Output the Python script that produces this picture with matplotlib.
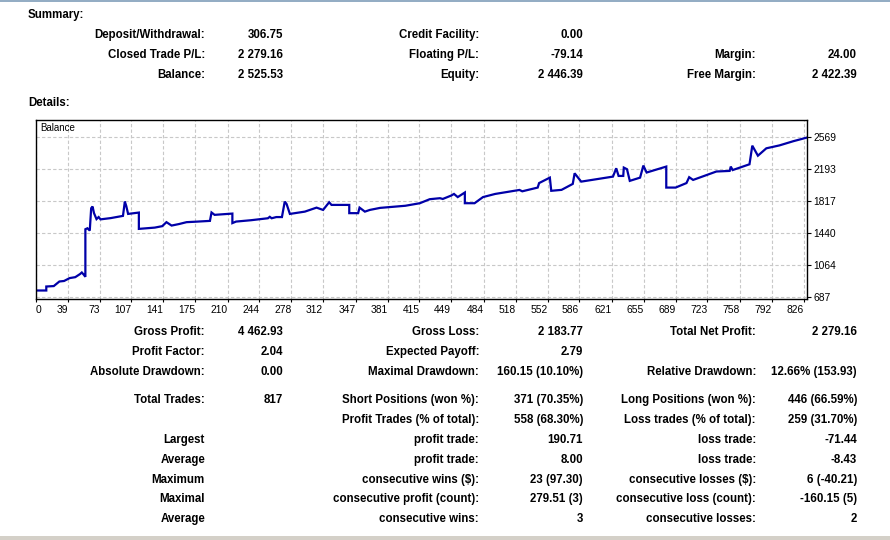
import matplotlib
matplotlib.use("Agg")
import matplotlib.pyplot as plt
from matplotlib.patches import Rectangle
from matplotlib.lines import Line2D

# ---------------- data ----------------
trade_idx = [5, 16, 16, 24, 30, 35, 41, 47, 52, 54, 56, 57.8, 57.8, 60, 62.5, 64, 65.5, 67, 69.7, 72, 74, 85, 98,
             100, 101.5, 103.5, 115, 115, 132, 140, 144.5, 150, 158, 166, 175, 191, 192.7, 196, 215, 215, 219,
             235, 253, 255, 257, 262, 268, 271, 273, 276.5, 292.5, 305, 312, 318.5, 321, 340, 340, 349.5, 351,
             356.7, 362, 373, 400, 415.5, 426, 437, 440, 449, 452, 456, 463.6, 463.6, 474, 483, 496, 522,
             525, 541.5, 543, 554.5, 556, 567, 579, 581, 588, 622, 625.5, 628, 633, 633.6, 637, 640, 651, 654.5,
             658, 679, 679, 689, 700.6, 703.5, 707.7, 732.6, 746.8, 748, 750, 768, 771, 777, 786, 800, 815, 829]
balance = [763, 763, 810, 815, 869, 875, 909, 920, 956, 975, 950, 924, 1484, 1495, 1468, 1731, 1751, 1674, 1603,
           1627, 1600, 1615, 1641, 1809, 1758, 1664, 1680, 1488, 1503, 1520, 1567, 1527, 1545, 1567, 1572, 1582,
           1681, 1653, 1668, 1556, 1574, 1590, 1613, 1630, 1613, 1627, 1627, 1809, 1780, 1664, 1691, 1738, 1711,
           1801, 1770, 1770, 1673, 1673, 1738, 1691, 1711, 1735, 1760, 1790, 1837, 1849, 1840, 1880, 1899, 1862,
           1916, 1790, 1790, 1862, 1899, 1946, 1930, 1974, 2027, 2091, 1936, 1947, 2017, 2142, 2044, 2103,
           2201, 2111, 2111, 2209, 2190, 2053, 2091, 2233, 2151, 2221, 1974, 1974, 2027, 2096, 2064, 2163, 2170,
           2221, 2180, 2248, 2467, 2349, 2436, 2470, 2520, 2561]

x_tick_values = [5, 39, 73, 107, 141, 175, 210, 244, 278, 312, 347, 381, 415, 449, 484, 518, 552, 586, 621, 655,
                 689, 723, 758, 792, 826]
x_tick_labels = ["0", "39", "73", "107", "141", "175", "210", "244", "278", "312", "347", "381", "415", "449",
                 "484", "518", "552", "586", "621", "655", "689", "723", "758", "792", "826"]
y_tick_values = [687, 1064, 1440, 1817, 2193, 2569]

summary_rows = [
    ["Deposit/Withdrawal:", "306.75", "Credit Facility:", "0.00", "", ""],
    ["Closed Trade P/L:", "2 279.16", "Floating P/L:", "-79.14", "Margin:", "24.00"],
    ["Balance:", "2 525.53", "Equity:", "2 446.39", "Free Margin:", "2 422.39"],
]
detail_rows = [
    ["Gross Profit:", "4 462.93", "Gross Loss:", "2 183.77", "Total Net Profit:", "2 279.16"],
    ["Profit Factor:", "2.04", "Expected Payoff:", "2.79", "", ""],
    ["Absolute Drawdown:", "0.00", "Maximal Drawdown:", "160.15 (10.10%)", "Relative Drawdown:", "12.66% (153.93)"],
    ["Total Trades:", "817", "Short Positions (won %):", "371 (70.35%)", "Long Positions (won %):", "446 (66.59%)"],
    ["", "", "Profit Trades (% of total):", "558 (68.30%)", "Loss trades (% of total):", "259 (31.70%)"],
    ["Largest", "", "profit trade:", "190.71", "loss trade:", "-71.44"],
    ["Average", "", "profit trade:", "8.00", "loss trade:", "-8.43"],
    ["Maximum", "", "consecutive wins ($):", "23 (97.30)", "consecutive losses ($):", "6 (-40.21)"],
    ["Maximal", "", "consecutive profit (count):", "279.51 (3)", "consecutive loss (count):", "-160.15 (5)"],
    ["Average", "", "consecutive wins:", "3", "consecutive losses:", "2"],
]

# ---------------- layout ----------------
W, H = 890, 540
fig = plt.figure(figsize=(W / 100, H / 100), dpi=100)
fig.patch.set_facecolor("white")
plt.rcParams["font.family"] = ["Liberation Sans", "DejaVu Sans"]

def fx(px):
    return px / W

def fy(py):
    return 1 - py / H

# frame lines
fig.add_artist(Line2D([0, 1], [fy(0.5), fy(0.5)], color="#7f9db9", lw=1.2, transform=fig.transFigure))
fig.add_artist(Rectangle((0, 0), 1, 4 / H, color="#d4d0c8", transform=fig.transFigure, lw=0))

FS = 8.3
col_x = [205, 283, 479, 583, 756, 857]

fig.text(fx(28), fy(15), "Summary:", fontsize=FS, fontweight="bold", ha="left", va="center")
fig.text(fx(28), fy(103), "Details:", fontsize=FS, fontweight="bold", ha="left", va="center")

for row, y in zip(summary_rows, [35, 55, 75]):
    for txt, x in zip(row, col_x):
        if txt:
            fig.text(fx(x), fy(y), txt, fontsize=FS, fontweight="bold", ha="right", va="center")

for row, y in zip(detail_rows, [332, 352, 372, 400, 420, 440, 460, 480, 499, 519]):
    for txt, x in zip(row, col_x):
        if txt:
            fig.text(fx(x), fy(y), txt, fontsize=FS, fontweight="bold", ha="right", va="center")

# ---------------- chart ----------------
ax = fig.add_axes([fx(36), fy(299), (807 - 36) / W, (299 - 120) / H])
ax.plot(trade_idx, balance, color="#0000a8", lw=1.6, solid_joinstyle="miter")
ax.set_xlim(5, 829.5)
ax.set_ylim(663, 2769)

ax.set_xticks(x_tick_values)
ax.set_xticklabels(x_tick_labels)
ax.set_yticks(y_tick_values)
ax.set_yticklabels([str(v) for v in y_tick_values])
ax.yaxis.tick_right()
ax.tick_params(axis="x", length=2, width=0.8, pad=2, labelsize=7.4, colors="black")
ax.tick_params(axis="y", length=3, width=0.8, pad=1.5, labelsize=7.4, colors="black")
for lab in ax.get_xticklabels():
    lab.set_horizontalalignment("right")
ax.get_xticklabels()[0].set_horizontalalignment("left")
for lab in ax.get_yticklabels():
    lab.set_horizontalalignment("left")

ax.grid(True, color="#c8c8c8", linestyle=(0, (3, 2)), lw=0.8)
for s in ax.spines.values():
    s.set_color("black")
    s.set_linewidth(1.0)
ax.text(0.006, 0.985, "Balance", transform=ax.transAxes, fontsize=7, ha="left", va="top")

fig.savefig("out.png", dpi=100)
